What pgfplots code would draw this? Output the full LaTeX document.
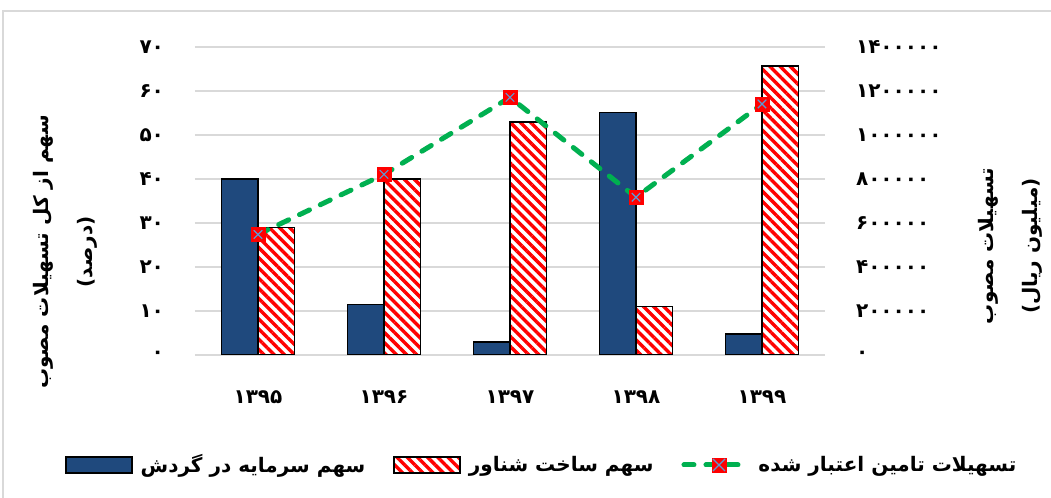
\documentclass[border=0pt]{standalone}
\usepackage{pgfplots}
\pgfplotsset{compat=1.18}
\usetikzlibrary{patterns.meta}
\usepackage{fontspec}
\setmainfont{DejaVu Sans}
\newfontfamily\fa[Script=Arabic]{DejaVu Sans}
\TeXXeTstate=1
\definecolor{barblue}{RGB}{31,73,125}
\definecolor{lgreen}{RGB}{0,176,80}
\definecolor{gridgray}{RGB}{217,217,217}
\definecolor{xblue}{RGB}{91,155,213}
\tikzset{hatchred/.style={fill=white, postaction={pattern={Lines[angle=-45,distance=3.6pt,line width=1.7pt]}, pattern color=red}}}
\pgfplotsset{
  boxlegend/.style={legend image code/.code={\draw[##1] (0pt,-4pt) rectangle (33pt,4pt);}},
  linelegend/.style={legend image code/.code={
    \draw[lgreen, line width=2.5pt, dash pattern=on 5pt off 6pt, line cap=round] (1pt,0pt) -- (33pt,0pt);
    \fill[red] (15pt,-3.5pt) rectangle (22pt,3.5pt);
    \draw[xblue, line width=0.6pt] (15.5pt,-3pt) -- (21.5pt,3pt) (15.5pt,3pt) -- (21.5pt,-3pt);}},
}
\begin{document}
\begin{tikzpicture}
\useasboundingbox (0,0) rectangle (525.5pt,249pt);
\draw[gridgray, line width=0.75pt] (1.5pt,-5pt) rectangle (530pt,243.5pt);
\begin{axis}[
  at={(97.5pt,71.5pt)}, anchor=south west,
  scale only axis, width=315pt, height=154pt,
  xmin=-0.5, xmax=4.5, ymin=0, ymax=70,
  axis line style={draw=none}, tick style={draw=none},
  ymajorgrids, grid style={gridgray, line width=0.75pt},
  xtick={0,1,2,3,4},
  xticklabels={۱۳۹۵,۱۳۹۶,۱۳۹۷,۱۳۹۸,۱۳۹۹},
  ytick={0,10,20,30,40,50,60,70},
  yticklabels={۰,۱۰,۲۰,۳۰,۴۰,۵۰,۶۰,۷۰},
  ticklabel style={font={\fa\bfseries\fontsize{10}{12}\selectfont}},
  yticklabel style={anchor=east, xshift=-12pt},
  xticklabel style={anchor=center, yshift=-17pt},
  ybar, bar width=18.15pt,
  legend columns=3,
  legend style={draw=none, at={(0.552,-0.357)}, anchor=center,
    font={\fa\bfseries\fontsize{10}{12}\selectfont},
    /tikz/every odd column/.append style={column sep=2pt},
    /tikz/every even column/.append style={column sep=12pt},
    nodes={inner sep=2pt}},
]
\addplot[fill=barblue, draw=black, line width=0.75pt, bar shift=-9.075pt, boxlegend]
  coordinates {(0,40) (1,11.5) (2,3) (3,55.1) (4,4.8)};
\addlegendentry{\beginR سهم سرمایه در گردش\endR}
\addplot[hatchred, draw=black, line width=0.75pt, bar shift=9.075pt, boxlegend]
  coordinates {(0,29) (1,40) (2,53) (3,11) (4,65.7)};
\addlegendentry{\beginR سهم ساخت شناور\endR}
\addlegendimage{linelegend}
\addlegendentry{\beginR تسهیلات تامین اعتبار شده\endR}
\end{axis}
\begin{axis}[
  at={(97.5pt,71.5pt)}, anchor=south west,
  scale only axis, width=315pt, height=154pt,
  xmin=-0.5, xmax=4.5, ymin=0, ymax=1400000,
  axis line style={draw=none}, tick style={draw=none},
  axis x line=none, axis y line*=right,
  ytick={0,200000,400000,600000,800000,1000000,1200000,1400000},
  yticklabels={۰,۲۰۰۰۰۰,۴۰۰۰۰۰,۶۰۰۰۰۰,۸۰۰۰۰۰,۱۰۰۰۰۰۰,۱۲۰۰۰۰۰,۱۴۰۰۰۰۰},
  scaled y ticks=false,
  ticklabel style={font={\fa\bfseries\fontsize{10}{12}\selectfont}},
  yticklabel style={anchor=west, xshift=12pt},
]
\addplot[lgreen, line width=2.5pt, dash pattern=on 5.5pt off 6pt, line cap=round, mark=none]
  coordinates {(0,548000) (1,821000) (2,1171000) (3,717000) (4,1141000)};
\addplot[only marks, mark=square*, mark size=3.5pt, mark options={fill=red, draw=red}]
  coordinates {(0,548000) (1,821000) (2,1171000) (3,717000) (4,1141000)};
\addplot[only marks, mark=x, mark size=3pt, mark options={draw=xblue, line width=0.6pt}]
  coordinates {(0,548000) (1,821000) (2,1171000) (3,717000) (4,1141000)};
\end{axis}
\node[rotate=90, align=center, font={\fa\bfseries\fontsize{10}{22}\selectfont}] at (32.5pt,123pt)
  {\beginR سهم از کل تسهیلات مصوب\endR\\\beginR (درصد)\endR};
\node[rotate=90, align=center, font={\fa\bfseries\fontsize{10}{22}\selectfont}] at (505pt,126pt)
  {\beginR تسهیلات مصوب\endR\\\beginR (میلیون ریال)\endR};
\end{tikzpicture}
\end{document}
